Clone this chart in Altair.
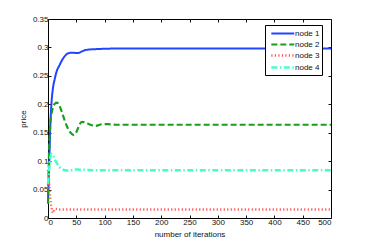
import altair as alt
import pandas as pd

iters = [0, 2, 4, 6, 9, 12, 16, 20, 25, 30, 34, 40, 46, 51, 55, 60, 65, 70, 75, 84, 96, 105, 120, 200, 300, 400, 500]
node1 = [0.03, 0.09, 0.16, 0.20, 0.23, 0.245, 0.260, 0.268, 0.278, 0.285, 0.289, 0.2905, 0.2905, 0.290, 0.2905,
         0.293, 0.295, 0.296, 0.2965, 0.297, 0.2975, 0.2978, 0.298, 0.298, 0.298, 0.298, 0.298]
node2 = [0.025, 0.12, 0.165, 0.182, 0.195, 0.201, 0.203, 0.198, 0.185, 0.170, 0.160, 0.150, 0.146, 0.153, 0.163,
         0.169, 0.168, 0.166, 0.164, 0.162, 0.165, 0.165, 0.164, 0.164, 0.164, 0.164, 0.164]
node3 = [0.085, 0.06, 0.035, 0.02, 0.009, 0.016, 0.016, 0.015, 0.015, 0.015, 0.015, 0.015, 0.015, 0.015, 0.015,
         0.015, 0.015, 0.015, 0.015, 0.015, 0.015, 0.015, 0.015, 0.015, 0.015, 0.015, 0.015]
node4 = [0.06, 0.085, 0.105, 0.113, 0.110, 0.103, 0.096, 0.090, 0.086, 0.084, 0.0835, 0.084, 0.085, 0.0855, 0.085,
         0.085, 0.0848, 0.0845, 0.0843, 0.084, 0.084, 0.084, 0.084, 0.084, 0.084, 0.084, 0.084]

names = ["node 1", "node 2", "node 3", "node 4"]
series = [node1, node2, node3, node4]
colors = ["#2244ff", "#1a9e1a", "#ff5555", "#44ffc8"]
dashes = [[1, 0], [6, 3], [1.2, 2.3], [6, 2.5, 1.5, 2.5]]
widths = [2, 2.5, 1.3, 1.5]

rows = []
for n, s in zip(names, series):
    for x, y in zip(iters, s):
        rows.append({"iter": x, "price": y, "node": n})
df = pd.DataFrame(rows)

FONT = "Liberation Sans"
xs = alt.Scale(domain=[0, 500], nice=False)
ys = alt.Scale(domain=[0, 0.35], nice=False)
xticks = [0, 50, 100, 150, 200, 250, 300, 350, 400, 450, 500]
yticks = [0, 0.05, 0.1, 0.15, 0.2, 0.25, 0.3, 0.35]

lines = alt.Chart(df).mark_line(interpolate="monotone").encode(
    x=alt.X("iter:Q", scale=xs,
            axis=alt.Axis(title="number of iterations", values=xticks,
                          format="d", domain=False, tickSize={"expr": "-3"}, labelPadding=3, titlePadding=4)),
    y=alt.Y("price:Q", scale=ys,
            axis=alt.Axis(title="price", values=yticks,
                          format="~g", domain=False, tickSize={"expr": "-3"}, labelPadding=3, titlePadding=5)),
    color=alt.Color("node:N", scale=alt.Scale(domain=names, range=colors),
                    legend=alt.Legend(title=None, orient="none", legendX=217, legendY=6,
                                      fillColor="white", strokeColor="black", padding=2,
                                      symbolType="M-0.42,0H4", symbolSize=108, labelOffset=15,
                                      labelFontSize=8, rowPadding=0)),
    strokeDash=alt.StrokeDash("node:N", scale=alt.Scale(domain=names, range=dashes), legend=None),
    strokeWidth=alt.StrokeWidth("node:N", scale=alt.Scale(domain=names, range=widths), legend=None),
)

frame = alt.Chart(df).mark_line(opacity=0).encode(
    x=alt.X("iter:Q", scale=xs,
            axis=alt.Axis(orient="top", title=None, labels=False, domain=False,
                          values=xticks, tickSize={"expr": "-3"})),
    y=alt.Y("price:Q", scale=ys,
            axis=alt.Axis(orient="right", title=None, labels=False, domain=False,
                          values=yticks, tickSize={"expr": "-3"})),
    detail="node:N",
)

chart = alt.layer(lines, frame).resolve_axis(x="independent", y="independent").properties(
    width=283, height=199,
    padding={"left": 40, "top": 11, "right": 26, "bottom": 20},
    autosize=alt.AutoSizeParams(type="none"),
).configure_view(stroke="black", strokeWidth=1).configure_axis(
    labelFont=FONT, titleFont=FONT, labelFontSize=8, titleFontSize=8, titleFontWeight="normal",
    labelColor="#111", titleColor="#111", tickColor="#111", grid=False,
).configure_legend(labelFont=FONT, labelColor="#111")

chart.save("out.html", embed_options={"renderer": "svg", "actions": False})
